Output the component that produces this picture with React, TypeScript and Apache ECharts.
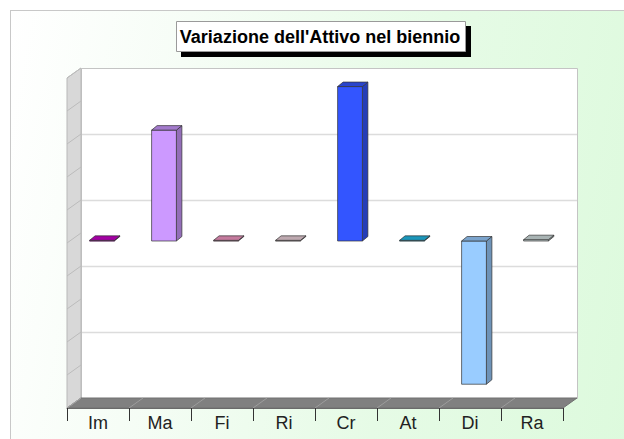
import React, { useEffect, useRef } from 'react';
import * as echarts from 'echarts';

const categories = ['Im', 'Ma', 'Fi', 'Ri', 'Cr', 'At', 'Di', 'Ra'];
const values = [1, 168, 1, 1, 234, 1, -217, 2];
const barColors = ['#cc00cc', '#cc99ff', '#f598c4', '#eed3dc', '#3355ff', '#22bbe8', '#99ccff', '#d2e0e0'];
const gridLineValues = [-150, -50, 50, 150];
const wallTickValues = [-250, -200, -150, -100, -50, 0, 50, 100, 150, 200, 250];
const titleText = "Variazione dell'Attivo nel biennio";
const yMin = -250;
const yMax = 250;

const W = 624;
const H = 439;
const FRONT = { left: 67, top: 78, width: 496, height: 330 };
const DX = 14;
const DY = -10;
const BACK = { left: FRONT.left + DX, top: FRONT.top + DY, width: FRONT.width, height: FRONT.height };
const FONT = 'Arial, "Liberation Sans", Helvetica, sans-serif';

function shade(hex: string, f: number): string {
  const n = parseInt(hex.slice(1), 16);
  const r = Math.round(((n >> 16) & 255) * f);
  const g = Math.round(((n >> 8) & 255) * f);
  const b = Math.round((n & 255) * f);
  return 'rgb(' + r + ',' + g + ',' + b + ')';
}

export default function App() {
  const ref = useRef<HTMLDivElement>(null);
  useEffect(() => {
    if (!ref.current) return;
    const chart = echarts.init(ref.current, undefined, { renderer: 'svg' });
    const fBottom = FRONT.top + FRONT.height;
    const fRight = FRONT.left + FRONT.width;
    const option: any = {
      animation: false,
      backgroundColor: 'transparent',
      grid: [
        { left: BACK.left, top: BACK.top, width: BACK.width, height: BACK.height },
        { left: FRONT.left, top: FRONT.top, width: FRONT.width, height: FRONT.height },
      ],
      xAxis: [
        { type: 'category', gridIndex: 0, data: categories, show: false },
        {
          type: 'category', gridIndex: 1, data: categories, z: 5,
          axisLine: { show: true, onZero: false, lineStyle: { color: '#6a6a6a', width: 1 } },
          axisTick: { show: true, length: 13, lineStyle: { color: '#333' } },
          axisLabel: { color: '#222', fontSize: 18, fontFamily: FONT, margin: 6 },
          splitLine: { show: false },
        },
      ],
      yAxis: [
        { type: 'value', gridIndex: 0, min: yMin, max: yMax, show: false, splitLine: { show: false } },
        { type: 'value', gridIndex: 1, min: yMin, max: yMax, show: false, splitLine: { show: false } },
      ],
      graphic: [
        {
          type: 'rect', z: 0,
          shape: { x: BACK.left + 0.5, y: BACK.top + 0.5, width: BACK.width, height: BACK.height },
          style: { fill: '#ffffff', stroke: '#c4c4c4', lineWidth: 1 },
        },
        {
          type: 'polygon', z: 0,
          shape: { points: [[FRONT.left, FRONT.top], [BACK.left, BACK.top], [BACK.left, BACK.top + BACK.height], [FRONT.left, fBottom]] },
          style: { fill: '#d8d8d8', stroke: '#b8b8b8', lineWidth: 1 },
        },
        {
          type: 'polygon', z: 0,
          shape: { points: [[FRONT.left, fBottom], [BACK.left, BACK.top + BACK.height], [BACK.left + BACK.width, BACK.top + BACK.height], [fRight, fBottom]] },
          style: { fill: '#808080', stroke: '#707070', lineWidth: 1 },
        },
        {
          type: 'rect', z: 100,
          shape: { x: 181, y: 26, width: 290, height: 31 },
          style: { fill: '#000' },
        },
        {
          type: 'rect', z: 101,
          shape: { x: 176.5, y: 21.5, width: 289, height: 30 },
          style: { fill: '#fff', stroke: '#9a9a9a', lineWidth: 1 },
        },
        {
          type: 'text', z: 102,
          x: 320, y: 37,
          style: { text: titleText, fill: '#000', font: 'bold 18px ' + FONT, align: 'center', verticalAlign: 'middle' },
        },
      ],
      series: [
        {
          type: 'custom', name: 'grid', xAxisIndex: 0, yAxisIndex: 0, z: 1, silent: true,
          data: gridLineValues.map((v) => [0, v]),
          renderItem: (params: any, api: any) => {
            const cs = params.coordSys;
            const y = Math.round(api.coord([0, api.value(1)])[1]) + 0.5;
            return { type: 'line', shape: { x1: cs.x + 1, y1: y, x2: cs.x + cs.width, y2: y }, style: { stroke: '#dcdcdc', lineWidth: 1.5 } };
          },
        },
        {
          type: 'custom', name: 'wallTicks', xAxisIndex: 0, yAxisIndex: 0, z: 1, silent: true,
          data: wallTickValues.map((v) => [0, v]),
          renderItem: (params: any, api: any) => {
            const cs = params.coordSys;
            const y = api.coord([0, api.value(1)])[1];
            return { type: 'line', shape: { x1: cs.x, y1: y, x2: cs.x - DX, y2: y - DY }, style: { stroke: '#bcbcbc', lineWidth: 1 } };
          },
        },
        {
          type: 'custom', name: 'floorLines', xAxisIndex: 1, yAxisIndex: 1, z: 1, silent: true,
          data: categories.map((c, i) => [i, yMin]),
          renderItem: (params: any, api: any) => {
            const p = api.coord([api.value(0), api.value(1)]);
            const w = api.size([1, 0])[0];
            const x = p[0] - w / 2;
            return { type: 'line', shape: { x1: x, y1: p[1], x2: x + DX, y2: p[1] + DY }, style: { stroke: '#9c9c9c', lineWidth: 1 } };
          },
        },
        {
          type: 'custom', name: 'bars', xAxisIndex: 1, yAxisIndex: 1, z: 3,
          data: values.map((v, i) => [i, v]),
          renderItem: (params: any, api: any) => {
            const idx = api.value(0);
            const v = api.value(1);
            const base = api.coord([idx, 0]);
            const top = api.coord([idx, v]);
            const w = api.size([1, 0])[0] * 0.4;
            const cx = base[0] + 4;
            const y0 = base[1] - 2;
            const y1 = top[1] - 2;
            const yt = Math.min(y0, y1);
            const yb = Math.max(y0, y1);
            const xl = cx - w / 2;
            const xr = cx + w / 2;
            const dx = 5.5;
            const dy = -4.5;
            const color = barColors[params.dataIndex];
            const st = { stroke: '#333', lineWidth: 0.7 };
            return {
              type: 'group',
              children: [
                { type: 'polygon', shape: { points: [[xr, yt], [xr + dx, yt + dy], [xr + dx, yb + dy], [xr, yb]] }, style: { fill: shade(color, 0.72), ...st } },
                { type: 'rect', shape: { x: xl, y: yt, width: w, height: Math.max(yb - yt, 0.8) }, style: { fill: color, ...st } },
                { type: 'polygon', shape: { points: [[xl, yt], [xl + dx, yt + dy], [xr + dx, yt + dy], [xr, yt]] }, style: { fill: shade(color, 0.8), ...st } },
              ],
            };
          },
        },
      ],
    };
    chart.setOption(option);
    return () => chart.dispose();
  }, []);

  return (
    <div style={{ position: 'fixed', left: 0, top: 0, width: W, height: H, background: '#fff', overflow: 'hidden' }}>
      <div
        style={{
          position: 'absolute', left: 10, top: 10, width: W + 20, height: H + 20,
          border: '1px solid #c8c8c8',
          background: 'linear-gradient(100deg, #ffffff 0%, #f6fdf6 25%, #e6fbe6 60%, #dcfadc 100%)',
        }}
      />
      <div ref={ref} style={{ position: 'absolute', left: 0, top: 0, width: W, height: H }} />
    </div>
  );
}
